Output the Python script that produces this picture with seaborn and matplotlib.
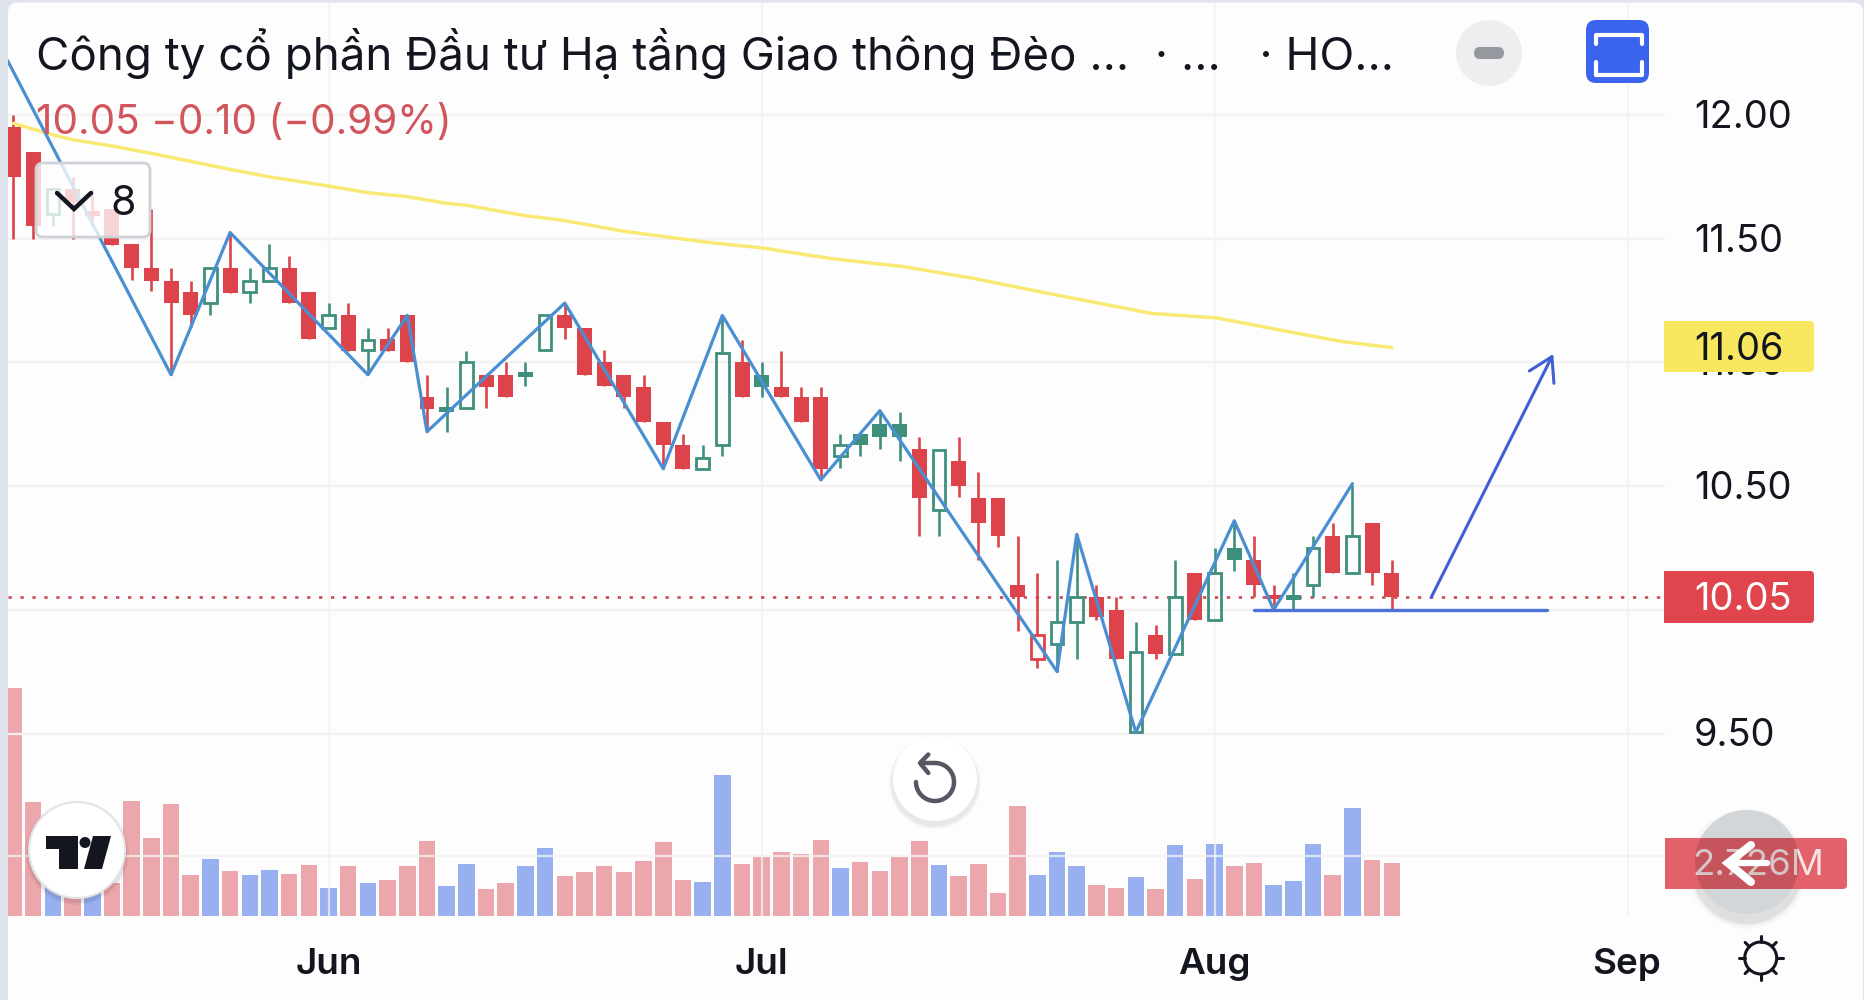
import numpy as np
import pandas as pd
import matplotlib
matplotlib.use('Agg')
import matplotlib.pyplot as plt
from matplotlib.patches import Circle, FancyBboxPatch, Rectangle, Polygon, Arc
import seaborn as sns

# candles: R/G filled, r/g hollow
kinds = ['R','R','g','R','R','R','R','R','R','R','g','R','g','g','R','R','g','R','g','R',
         'R','R','G','g','R','R','G','g','R','R','R','R','R','R','R','g','g','R','G','R',
         'R','R','g','G','G','G','R','g','R','R','R','R','r','g','g','R','R','g','R','g',
         'R','g','G','R','R','G','g','R','g','R','R']
body_top = [11.95,11.85,11.70,11.70,11.61,11.62,11.48,11.38,11.33,11.285,11.38,11.38,11.33,11.38,11.38,11.285,11.19,11.19,11.09,11.095,
            11.19,10.86,10.82,11.00,10.95,10.95,10.96,11.19,11.19,11.14,11.00,10.95,10.90,10.76,10.665,10.615,11.04,11.00,10.95,10.90,
            10.86,10.86,10.665,10.71,10.75,10.75,10.65,10.646,10.60,10.45,10.45,10.10,9.90,9.95,10.05,10.05,10.00,9.83,9.90,10.05,
            10.15,10.15,10.25,10.20,10.06,10.06,10.25,10.30,10.30,10.35,10.15]
body_bot = [11.75,11.55,11.60,11.65,11.59,11.475,11.38,11.33,11.24,11.19,11.24,11.28,11.285,11.33,11.24,11.095,11.14,11.045,11.05,11.045,
            11.00,10.81,10.80,10.815,10.90,10.86,10.94,11.05,11.14,10.95,10.905,10.86,10.76,10.665,10.57,10.57,10.665,10.86,10.90,10.86,
            10.76,10.57,10.62,10.665,10.70,10.70,10.45,10.404,10.50,10.35,10.30,10.05,9.80,9.86,9.95,9.97,9.80,9.505,9.82,9.82,
            9.96,9.96,10.20,10.10,10.045,10.04,10.10,10.15,10.15,10.15,10.05]
high = [12.00,11.85,11.70,11.75,11.70,11.62,11.48,11.62,11.38,11.33,11.38,11.525,11.38,11.48,11.43,11.285,11.24,11.24,11.14,11.14,
        11.19,10.95,10.90,11.045,10.95,11.00,11.00,11.19,11.24,11.14,11.05,10.95,10.95,10.76,10.71,10.665,11.19,11.09,11.00,11.045,
        10.90,10.90,10.71,10.71,10.805,10.80,10.70,10.646,10.70,10.555,10.45,10.30,10.15,10.20,10.305,10.10,10.05,9.95,9.94,10.20,
        10.15,10.25,10.36,10.30,10.10,10.15,10.30,10.35,10.505,10.35,10.20]
low = [11.50,11.50,11.55,11.50,11.55,11.475,11.335,11.29,10.95,11.145,11.19,11.28,11.24,11.33,11.24,11.095,11.14,11.045,10.95,11.045,
       11.00,10.72,10.72,10.815,10.815,10.86,10.905,11.05,11.095,10.95,10.905,10.815,10.76,10.57,10.57,10.57,10.62,10.86,10.86,10.86,
       10.76,10.525,10.575,10.62,10.65,10.60,10.30,10.30,10.454,10.20,10.255,9.915,9.765,9.75,9.80,9.96,9.80,9.505,9.80,9.82,
       9.96,9.96,10.155,10.05,10.00,10.00,10.05,10.15,10.15,10.10,10.00]

# volume in millions and which colour the bar has
volume = [11.71,5.85,2.57,2.23,2.06,1.71,5.92,4.01,5.76,2.11,2.93,2.31,2.11,2.37,2.16,2.62,1.44,2.57,1.70,1.85,
          2.57,3.86,1.54,2.67,1.39,1.70,2.57,3.50,2.06,2.26,2.57,2.26,2.83,3.81,1.85,1.75,7.25,2.67,3.03,3.29,
          3.19,3.91,2.47,2.78,2.31,3.03,3.86,2.62,2.06,2.67,1.18,5.66,2.11,3.29,2.57,1.59,1.44,2.01,1.39,3.65,
          1.90,3.70,2.57,2.73,1.59,1.80,3.70,2.11,5.55,2.88,2.726]
vol_dir = ['d','d','u','d','u','d','d','d','d','d','u','d','u','u','d','d','u','d','u','d',
           'd','d','u','u','d','d','u','u','d','d','d','d','d','d','d','u','u','d','d','d',
           'd','d','u','d','d','d','d','u','d','d','d','d','u','u','u','d','d','u','d','u',
           'd','u','d','d','u','u','u','d','u','d','d']

# moving average
ma_x = [0,2,3,5,7,11,13,16,18,20,22,23,26,28,31,35.5,37.9,41.5,45.2,48.8,53,57.8,61.1,65.1,67.5,70]
ma_y = [11.966,11.92,11.90,11.875,11.845,11.78,11.75,11.713,11.686,11.67,11.643,11.635,11.593,11.573,11.53,
        11.483,11.464,11.42,11.387,11.339,11.272,11.198,11.18,11.119,11.084,11.06]

# hand drawn zigzag
zig_x = [-0.3,8,11,18,20,21,28,33,36,41,44,53,54,57,62,64,68]
zig_y = [12.22,10.95,11.525,10.95,11.19,10.72,11.24,10.57,11.19,10.525,10.805,9.75,10.305,9.505,10.36,10.00,10.51]
# hand drawn support line and arrow
sup_x = [63,77.9]
sup_y = [10.0,10.0]
arrow_x = [72.0,78.2]
arrow_y = [10.05,11.034]

price_ticks = [12.00,11.50,11.00,10.50,10.00,9.50]
price_labels = ['12.00','11.50','11.00','10.50',None,'9.50']
month_pos = [16,38,61,82]
month_names = ['Jun','Jul','Aug','Sep']

RED = '#dd434b'
GREEN = '#3f8f7d'
BLUE = '#4a8fd2'
BG = '#fdfdfe'
GRID = '#f2f2f3'
INK = '#14161f'
STRIP = '#dfe3eb'

sns.set_theme(style='white')
plt.rcParams['font.family'] = ['Inter', 'DejaVu Sans']

W, H = 1865, 1000
X0, STEP = 13.5, 19.69
fig = plt.figure(figsize=(W/100, H/100), dpi=100, facecolor=STRIP)
L, R, T, B = 8, 1665, 3, 916
rect = [L/W, 1-B/H, (R-L)/W, (B-T)/H]

# white panel with the rounded corner
back = fig.add_axes([0, 0, 1, 1], facecolor='none')
back.set_xlim(0, W)
back.set_ylim(H, 0)
back.axis('off')
back.add_patch(FancyBboxPatch((8, 2.5), W-10, H+30, boxstyle='round,pad=0,rounding_size=10', fc=BG, lw=0))

# volume goes in first, under the price pane
vax = fig.add_axes(rect, facecolor='none')
vdf = pd.DataFrame({'i': np.arange(len(volume)), 'vol': volume, 'dir': vol_dir})
sns.barplot(data=vdf, x='i', y='vol', hue='dir', dodge=False, native_scale=True,
            palette={'d': '#eba7ac', 'u': '#98aff0'}, saturation=1, width=0.84,
            linewidth=0, legend=False, ax=vax)
vax.set_xlim((L-X0)/STEP, (R-X0)/STEP)
vax.set_ylim(0, (B-T)/19.44)
vax.axhline(3.09, color=GRID, lw=1.6, zorder=3, alpha=0.8)
vax.axis('off')

ax = fig.add_axes(rect, facecolor='none')
ax.set_xlim((L-X0)/STEP, (R-X0)/STEP)
ax.set_ylim(12-(B-115)/247.4, 12-(T-115)/247.4)
for p in price_ticks:
    ax.axhline(p, color=GRID, lw=1.6, zorder=1)
for m in month_pos:
    ax.axvline(m, color=GRID, lw=1.6, zorder=1, alpha=0.8)

ax.axhline(10.05, color='#c9545b', lw=2, ls=(0, (1.2, 3.1)), zorder=2)

for i, k in enumerate(kinds):
    col = RED if k in 'Rr' else GREEN
    if k in 'RG':
        ax.vlines(i, low[i], high[i], color=col, lw=1.9, zorder=4)
        ax.bar(i, body_top[i]-body_bot[i], bottom=body_bot[i], width=0.76, color=col, lw=0, zorder=4)
    else:
        ax.vlines(i, body_top[i], high[i], color=col, lw=1.9, zorder=4)
        ax.vlines(i, low[i], body_bot[i], color=col, lw=1.9, zorder=4)
        ax.bar(i, body_top[i]-body_bot[i], bottom=body_bot[i], width=0.64, facecolor='none',
               edgecolor=col, lw=2, zorder=4)

sns.lineplot(x=ma_x, y=ma_y, color='#f8ea74', lw=2.5, sort=False, estimator=None, ax=ax, zorder=5)
sns.lineplot(x=zig_x, y=zig_y, color=BLUE, lw=2.3, sort=False, estimator=None, ax=ax, zorder=6)
sns.lineplot(x=sup_x, y=sup_y, color='#4c72d6', lw=2.4, sort=False, estimator=None, ax=ax, zorder=6)
ax.annotate('', xy=(arrow_x[1], arrow_y[1]), xytext=(arrow_x[0], arrow_y[0]), zorder=6,
            arrowprops=dict(arrowstyle='->,head_length=0.75,head_width=0.45', color='#3f5fd2', lw=2.2,
                            shrinkA=0, shrinkB=0, mutation_scale=22))
ax.axis('off')

# everything that sits on top of the chart, in screen pixels
ui = fig.add_axes([0, 0, 1, 1], facecolor='none')
ui.set_xlim(0, W)
ui.set_ylim(H, 0)
ui.axis('off')

ui.text(36, 70, 'Công ty cổ phần Đầu tư Hạ tầng Giao thông Đèo ...  · ...   · HO...',
        fontsize=32.9, color=INK, va='baseline', ha='left')
ui.text(36, 134.5, '10.05 −0.10 (−0.99%)', fontsize=29.2, color='#d1555c', va='baseline', ha='left')

# interval tag
ui.add_patch(FancyBboxPatch((36, 163), 114, 74, boxstyle='round,pad=0,rounding_size=7',
                            fc=(1, 1, 1, 0.78), ec='#cfd2d8', lw=2))
ui.plot([57, 74, 91], [193, 209, 193], color=INK, lw=3.2, solid_capstyle='round', solid_joinstyle='miter')
ui.text(123, 215, '8', fontsize=29.5, color=INK, ha='center', va='baseline')

# minus button
ui.add_patch(Circle((1489, 53), 33, fc='#eeeef0', lw=0))
ui.add_patch(FancyBboxPatch((1474, 47), 30, 12, boxstyle='round,pad=0,rounding_size=6', fc='#96989f', lw=0))
# fullscreen button
ui.add_patch(FancyBboxPatch((1586, 20), 63, 63, boxstyle='round,pad=0,rounding_size=10', fc='#3a63ee', lw=0))
ui.plot([1596, 1596, 1642, 1642], [44, 35, 35, 44], color='white', lw=3, solid_joinstyle='round')
ui.plot([1596, 1596, 1642, 1642], [62, 75, 75, 62], color='white', lw=3, solid_joinstyle='round')

# right hand scale, 11.00 is half covered by the yellow flag
for p, lab in zip(price_ticks, price_labels):
    if lab:
        ui.text(1694, 115 + (12-p)*247.4 + 13, lab, fontsize=27.4, color=INK, ha='left', va='baseline', zorder=2)
ui.add_patch(FancyBboxPatch((1664, 321), 150, 51, boxstyle='round,pad=0,rounding_size=4', fc='#f9e75f', lw=0, zorder=4))
ui.add_patch(Rectangle((1664, 321), 20, 51, fc='#f9e75f', lw=0, zorder=4))
ui.text(1694, 360, '11.06', fontsize=27.4, color=INK, ha='left', va='baseline', zorder=5)
ui.add_patch(FancyBboxPatch((1664, 571), 150, 52, boxstyle='round,pad=0,rounding_size=4', fc='#e0444c', lw=0, zorder=4))
ui.add_patch(Rectangle((1664, 571), 20, 52, fc='#e0444c', lw=0, zorder=4))
ui.text(1694, 610, '10.05', fontsize=27.4, color='white', ha='left', va='baseline', zorder=5)

# month labels
for m, name in zip(month_pos, month_names):
    ui.text(X0 + m*STEP - (2 if name == 'Sep' else 0), 974, name, fontsize=26.5, fontweight='semibold',
            color=INK, ha='center', va='baseline')

# floating back button over the volume label
for r, a in [(60, 0.025), (57, 0.04), (55, 0.06)]:
    ui.add_patch(Circle((1747, 869), r, fc='black', alpha=a, lw=0, zorder=3))
ui.add_patch(Circle((1747, 862), 52, fc='#d3d6d8', lw=0, zorder=3))
box = FancyBboxPatch((1665, 838), 182, 51, boxstyle='round,pad=0,rounding_size=4', fc='#e3616a', lw=0, zorder=4)
ui.add_patch(box)
ui.add_patch(Rectangle((1665, 838), 20, 51, fc='#e3616a', lw=0, zorder=4))
ui.text(1692, 875, '2.726M', fontsize=26.4, color='#f6e3e4', ha='left', va='baseline', zorder=5)
shade = Circle((1747, 862), 52, fc='black', alpha=0.13, lw=0, zorder=6)
ui.add_patch(shade)
shade.set_clip_path(Rectangle((1665, 838), 182, 51, transform=ui.transData))
ui.plot([1751, 1728, 1751], [845, 863, 882], color='white', lw=5.8, solid_joinstyle='miter',
        solid_capstyle='round', zorder=7)
ui.plot([1733, 1767], [863, 863], color='white', lw=4.5, solid_capstyle='round', zorder=7)

# TradingView badge
for r, a in [(52, 0.04), (50, 0.07)]:
    ui.add_patch(Circle((77, 853), r, fc='black', alpha=a, lw=0))
ui.add_patch(Circle((77, 850), 48, fc='white', ec='#e4e4e4', lw=1.5))
ui.add_patch(Polygon([(46, 836), (78, 836), (78, 869), (59, 869), (59, 849), (46, 849)], fc=INK, lw=0))
ui.add_patch(Circle((85, 842.5), 5.5, fc=INK, lw=0))
ui.add_patch(Polygon([(93, 836), (111, 836), (102, 869), (84, 869)], fc=INK, lw=0))

# reset button
for r, a in [(46, 0.03), (44, 0.05)]:
    ui.add_patch(Circle((935, 783), r, fc='black', alpha=a, lw=0))
ui.add_patch(Circle((935, 779), 42, fc='white', lw=0))
ui.add_patch(Arc((935, 782), 38, 38, angle=0, theta1=-90, theta2=180, ec='#555862', lw=3.2, capstyle='round'))
ui.plot([935, 921], [763, 763], color='#555862', lw=3.2)
ui.plot([928.3, 920, 928.3], [754.5, 763, 773], color='#555862', lw=3.2, solid_capstyle='round')

# sun icon
ui.add_patch(Circle((1760.7, 958), 16, fc='none', ec=INK, lw=2.2))
for a in np.deg2rad(np.arange(0, 360, 45)):
    ui.plot([1760.7 + 16*np.cos(a), 1760.7 + 22*np.cos(a)],
            [958 + 16*np.sin(a), 958 + 22*np.sin(a)], color=INK, lw=2.2)

fig.savefig('out.png', dpi=100, facecolor=STRIP)
